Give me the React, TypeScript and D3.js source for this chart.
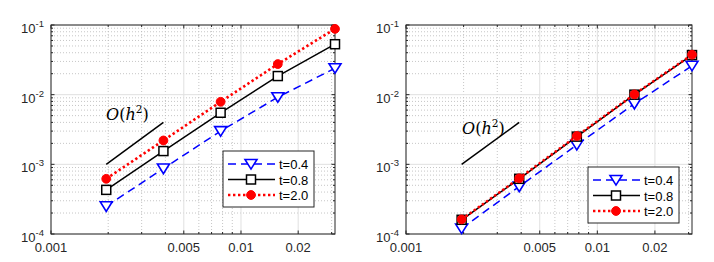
import React from 'react';
import * as d3 from 'd3';

// mesh sizes h (x axis)
const hValues = [1 / 512, 1 / 256, 1 / 128, 1 / 64, 1 / 32];

// left panel errors
const leftT04 = [2.5e-4, 8.7e-4, 3.0e-3, 9.2e-3, 2.4e-2];
const leftT08 = [4.3e-4, 1.55e-3, 5.5e-3, 1.85e-2, 5.3e-2];
const leftT20 = [6.2e-4, 2.2e-3, 7.9e-3, 2.75e-2, 8.8e-2];

// right panel errors
const rightT04 = [1.2e-4, 4.8e-4, 1.9e-3, 7.4e-3, 2.6e-2];
const rightT08 = [1.6e-4, 6.2e-4, 2.5e-3, 1.0e-2, 3.7e-2];
const rightT20 = [1.62e-4, 6.3e-4, 2.55e-3, 1.01e-2, 3.75e-2];

const seriesNames = ['t=0.4', 't=0.8', 't=2.0'];
const xTickLabels = ['0.001', '0.005', '0.01', '0.02'];
const xTicks = [0.001, 0.005, 0.01, 0.02];
const yTicks = [1e-4, 1e-3, 1e-2, 1e-1];
const yExponents = ['-4', '-3', '-2', '-1'];

// O(h^2) reference slope segment
const refX = [1 / 512, 1 / 256];
const refY = [1e-3, 4e-3];

const FONT = '"Liberation Sans", Arial, Helvetica, sans-serif';

const styles = [
  { color: '#0000ff', dash: '8,5', width: 1.5, marker: 'tri' },
  { color: '#000000', dash: null, width: 1.5, marker: 'sq' },
  { color: '#ff0000', dash: '2.4,2.6', width: 2.6, marker: 'dot' },
];

const Marker = ({ type, x, y, color }) => {
  if (type === 'tri') {
    const s = 6;
    return (
      <path
        d={`M${x - s},${y - s * 0.75}L${x + s},${y - s * 0.75}L${x},${y + s * 0.85}Z`}
        fill="white"
        stroke={color}
        strokeWidth={1.6}
      />
    );
  }
  if (type === 'sq') {
    return <rect x={x - 4.5} y={y - 4.5} width={9} height={9} fill="white" stroke={color} strokeWidth={1.5} />;
  }
  return <circle cx={x} cy={y} r={4.4} fill={color} stroke={color} strokeWidth={1} />;
};

const Panel = ({ left, right, series, legend, label }) => {
  const top = 25;
  const bottom = 234;
  const x = d3.scaleLog().domain([0.001, 1 / 32]).range([left, right]);
  const y = d3.scaleLog().domain([1e-4, 1e-1]).range([bottom, top]);
  const minorX = x.ticks();
  const minorY = y.ticks();
  const line = d3
    .line<number>()
    .x((_, i) => x(hValues[i]))
    .y((d) => y(d));

  return (
    <g>
      {/* minor grid */}
      {minorX.filter((v) => !xTicks.some((t) => Math.abs(t - v) < 1e-9)).map((v, i) => (
        <line key={'mx' + i} x1={x(v)} x2={x(v)} y1={top} y2={bottom} stroke="#b8b8b8" strokeWidth={0.8} strokeDasharray="1,2" />
      ))}
      {minorY.filter((v) => !yTicks.some((t) => Math.abs(t / v - 1) < 1e-6)).map((v, i) => (
        <line key={'my' + i} x1={left} x2={right} y1={y(v)} y2={y(v)} stroke="#b8b8b8" strokeWidth={0.8} strokeDasharray="1,2" />
      ))}
      {/* major grid */}
      {xTicks.map((v, i) => (
        <line key={'gx' + i} x1={x(v)} x2={x(v)} y1={top} y2={bottom} stroke="#e0e0e0" strokeWidth={1} />
      ))}
      {yTicks.map((v, i) => (
        <line key={'gy' + i} x1={left} x2={right} y1={y(v)} y2={y(v)} stroke="#e0e0e0" strokeWidth={1} />
      ))}
      {/* tick marks on all sides */}
      {minorX.map((v, i) => {
        const len = xTicks.some((t) => Math.abs(t - v) < 1e-9) ? 3.5 : 2;
        return (
          <g key={'tx' + i}>
            <line x1={x(v)} x2={x(v)} y1={bottom} y2={bottom - len} stroke="#262626" />
            <line x1={x(v)} x2={x(v)} y1={top} y2={top + len} stroke="#262626" />
          </g>
        );
      })}
      {minorY.map((v, i) => {
        const len = yTicks.some((t) => Math.abs(t / v - 1) < 1e-6) ? 3.5 : 2;
        return (
          <g key={'ty' + i}>
            <line x1={left} x2={left + len} y1={y(v)} y2={y(v)} stroke="#262626" />
            <line x1={right} x2={right - len} y1={y(v)} y2={y(v)} stroke="#262626" />
          </g>
        );
      })}
      <rect x={left} y={top} width={right - left} height={bottom - top} fill="none" stroke="#262626" strokeWidth={1} />

      {/* tick labels */}
      {xTicks.map((v, i) => (
        <text key={'lx' + i} x={x(v)} y={bottom + 18} textAnchor="middle" fontFamily={FONT} fontSize={13} fill="#262626">
          {xTickLabels[i]}
        </text>
      ))}
      {yTicks.map((v, i) => (
        <text key={'ly' + i} x={left - 7} y={y(v) + 8} textAnchor="end" fontFamily={FONT} fontSize={13} fill="#262626">
          10
          <tspan fontSize={9.5} dy={-6}>
            {yExponents[i]}
          </tspan>
        </text>
      ))}

      {/* reference slope */}
      <line x1={x(refX[0])} y1={y(refY[0])} x2={x(refX[1])} y2={y(refY[1])} stroke="#000" strokeWidth={1.5} />
      <text x={label.x} y={label.y} fontFamily='"DejaVu Serif", "Liberation Serif", serif' fontStyle="italic" fontSize={16} fill="#000">
        O
        <tspan fontStyle="normal">(</tspan>h
        <tspan fontStyle="normal" fontSize={10.5} dy={-7}>2</tspan>
        <tspan fontStyle="normal" dy={7}>)</tspan>
      </text>

      {/* series */}
      {series.map((vals, si) => {
        const st = styles[si];
        return (
          <g key={'s' + si}>
            <path d={line(vals) || ''} fill="none" stroke={st.color} strokeWidth={st.width} strokeDasharray={st.dash || undefined} />
            {vals.map((v, i) => (
              <Marker key={i} type={st.marker} x={x(hValues[i])} y={y(v)} color={st.color} />
            ))}
          </g>
        );
      })}

      {/* legend */}
      <rect x={legend.x} y={legend.y} width={91} height={56} fill="white" stroke="#262626" strokeWidth={1} />
      {seriesNames.map((name, i) => {
        const st = styles[i];
        const ry = legend.y + 13 + i * 15.5;
        return (
          <g key={'lg' + i}>
            <line x1={legend.x + 5} x2={legend.x + 52} y1={ry} y2={ry} stroke={st.color} strokeWidth={st.width} strokeDasharray={st.dash || undefined} />
            <Marker type={st.marker} x={legend.x + 28} y={ry} color={st.color} />
            <text x={legend.x + 56} y={ry + 5} fontFamily={FONT} fontSize={13} fill="#000">
              {name}
            </text>
          </g>
        );
      })}
    </g>
  );
};

export default function App() {
  return (
    <svg width={714} height={262} style={{ display: 'block', position: 'absolute', left: 0, top: 0, background: 'white' }}>
      <Panel
        left={51}
        right={335}
        series={[leftT04, leftT08, leftT20]}
        legend={{ x: 223, y: 151 }}
        label={{ x: 106, y: 120 }}
      />
      <Panel
        left={406}
        right={692}
        series={[rightT04, rightT08, rightT20]}
        legend={{ x: 588, y: 167 }}
        label={{ x: 462, y: 134 }}
      />
    </svg>
  );
}
